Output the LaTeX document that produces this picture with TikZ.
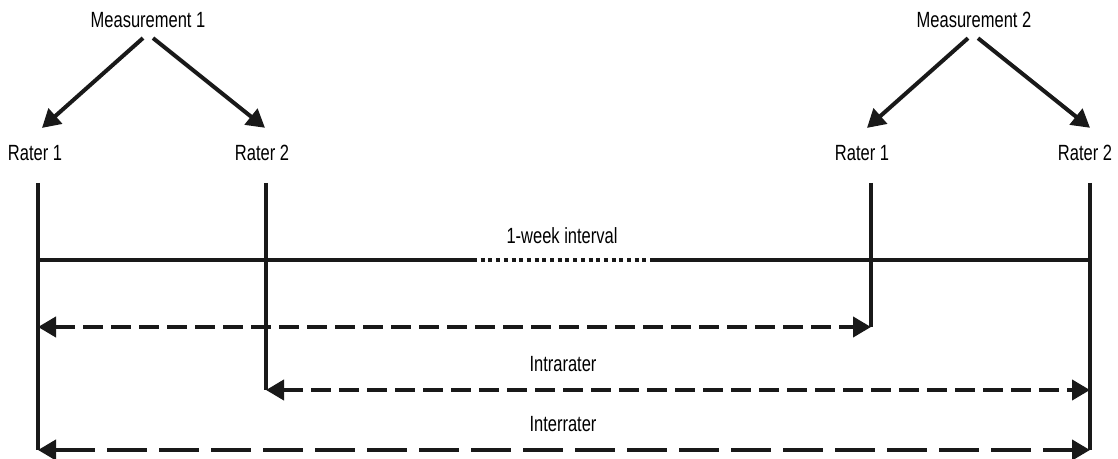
\documentclass[tikz,border=0pt]{standalone}
\usepackage{fontspec}
\setmainfont[FakeStretch=0.75]{Liberation Sans}
\usepackage{tikz}
\usetikzlibrary{arrows.meta, calc}

\begin{document}
\begin{tikzpicture}[
  x=0.5pt, y=-0.5pt,
  every node/.style={font=\fontsize{11}{13}\selectfont, inner sep=0pt},
  solidline/.style={line width=2pt, color=black!90},
  arrow/.style={-{Triangle[length=9pt, width=10pt]}, line width=2pt, color=black!90},
  shortdash/.style={{Triangle[length=9pt, width=10pt]}-{Triangle[length=9pt, width=10pt]},
    line width=2pt, color=black!90, dash pattern=on 10pt off 4pt},
  longdash/.style={{Triangle[length=9pt, width=10pt]}-{Triangle[length=9pt, width=10pt]},
    line width=2pt, color=black!90, dash pattern=on 20pt off 6pt},
  dotline/.style={line width=2pt, color=black!90, dash pattern=on 2pt off 1.85pt}
]
  \useasboundingbox (0,0) rectangle (1118,459);

  % Measurements and raters
  \node (m1) at (148,20) {Measurement 1};
  \node (m2) at (974,20) {Measurement 2};
  \node (r1a) at (35,153) {Rater 1};
  \node (r2a) at (262,153) {Rater 2};
  \node (r1b) at (862,153) {Rater 1};
  \node (r2b) at (1085,153) {Rater 2};

  % Labels
  \node (week) at (562,236) {1-week interval};
  \node (intra) at (563,364) {Intrarater};
  \node (inter) at (563,424) {Interrater};

  % Time lines
  \coordinate (v1) at (38,183);
  \coordinate (v2) at (266,183);
  \coordinate (v3) at (871,183);
  \coordinate (v4) at (1090,183);
  \coordinate (v1b) at (38,450);
  \coordinate (v2b) at (266,390);
  \coordinate (v3b) at (871,327);
  \coordinate (v4b) at (1090,450);
  \coordinate (d1) at (473,260);
  \coordinate (d2) at (652,260);

  % Arrows to raters
  \draw[arrow] ([xshift=-2.5pt, yshift=-5pt]m1.south) -- ([xshift=3.5pt, yshift=8.5pt]r1a.north);
  \draw[arrow] ([xshift=2.5pt, yshift=-5pt]m1.south) -- ([xshift=1.5pt, yshift=8.5pt]r2a.north);
  \draw[arrow] ([xshift=-3pt, yshift=-5pt]m2.south) -- ([xshift=2.5pt, yshift=8.5pt]r1b.north);
  \draw[arrow] ([xshift=2pt, yshift=-5pt]m2.south) -- ([xshift=2.5pt, yshift=8.5pt]r2b.north);

  % Vertical lines
  \draw[solidline] (v1) -- (v1b);
  \draw[solidline] (v2) -- (v2b);
  \draw[solidline] (v3) -- (v3b);
  \draw[solidline] (v4) -- (v4b);

  % Interval line
  \draw[solidline] (v1 |- d1) -- (d1);
  \draw[dotline] (d1) -- (d2);
  \draw[solidline] (d2) -- (v4 |- d2);

  % Comparisons
  \draw[shortdash] (v1 |- v3b) -- (v3b);
  \draw[shortdash] (v2b) -- (v4 |- v2b);
  \draw[longdash] (v1b) -- (v4b);

\end{tikzpicture}
\end{document}
